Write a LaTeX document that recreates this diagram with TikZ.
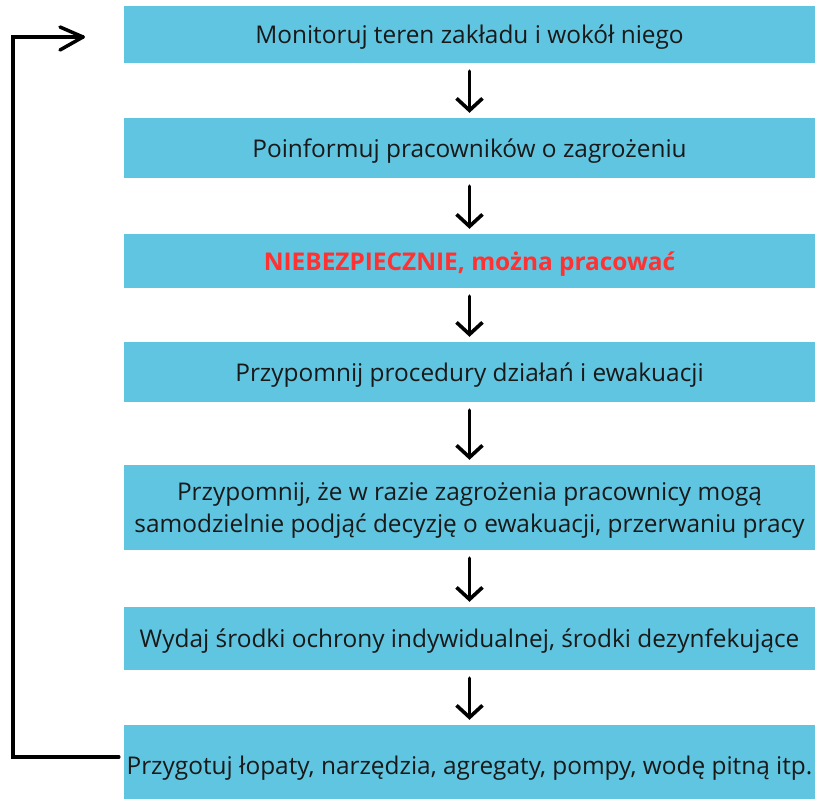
\documentclass[tikz,border=0pt]{standalone}
\usepackage{fontspec}
\setmainfont{Open Sans}
\usetikzlibrary{arrows.meta}
\definecolor{boxblue}{RGB}{96,197,225}
\definecolor{alertred}{RGB}{255,49,49}
\newcommand\lowtext[1]{\raisebox{-3pt}[\height][\depth]{#1}}
\tikzset{
  stepbox/.style={fill=boxblue, draw=none, minimum width=691pt, inner sep=0pt, align=center, font=\fontsize{24.4}{32}\selectfont, text=black!90},
  flowarrow/.style={line width=3.6pt, line cap=round, -{Straight Barb[length=12pt, width=26pt, line width=3.6pt]}, shorten <=8pt, shorten >=5pt},
  loopline/.style={line width=3.5pt, line cap=round, line join=miter}
}
\begin{document}
\begin{tikzpicture}[x=1pt, y=-1pt]
\useasboundingbox (0,0) rectangle (816,798);
\node[stepbox, minimum height=57pt] (b1) at (469.5,34.5) {\lowtext{Monitoruj teren zakładu i wokół niego}};
\node[stepbox, minimum height=60pt] (b2) at (469.5,148) {\lowtext{Poinformuj pracowników o zagrożeniu}};
\node[stepbox, minimum height=54pt, text=alertred, font=\fontsize{24.4}{32}\selectfont\bfseries] (b3) at (469.5,261) {\lowtext{NIEBEZPIECZNIE, można pracować}};
\node[stepbox, minimum height=60pt] (b4) at (469.5,372) {\lowtext{Przypomnij procedury działań i ewakuacji}};
\node[stepbox, minimum height=85pt] (b5) at (469.5,507.5) {\lowtext{\begin{tabular}{@{}c@{}}Przypomnij, że w razie zagrożenia pracownicy mogą\\samodzielnie podjąć decyzję o ewakuacji, przerwaniu pracy\end{tabular}}};
\node[stepbox, minimum height=63pt] (b6) at (469.5,638.5) {\lowtext{Wydaj środki ochrony indywidualnej, środki dezynfekujące}};
\node[stepbox, minimum height=80pt] (b7) at (469.5,765) {\lowtext{Przygotuj łopaty, narzędzia, agregaty, pompy, wodę pitną itp.}};
\draw[flowarrow] (b1) -- (b2);
\draw[flowarrow] (b2) -- (b3);
\draw[flowarrow] (b3) -- (b4);
\draw[flowarrow] (b4) -- (b5);
\draw[flowarrow] (b5) -- (b6);
\draw[flowarrow] (b6) -- (b7);
\coordinate (lb) at (13,757);
\coordinate (lt) at (13,37);
\coordinate (tip) at (83,37);
\draw[loopline] ([xshift=-5pt]b7.west |- lb) -- (lb) -- (lt) -- (tip);
\draw[line width=3.5pt, line cap=round] (tip) -- (60,27) (tip) -- (60,50);
\end{tikzpicture}
\end{document}
